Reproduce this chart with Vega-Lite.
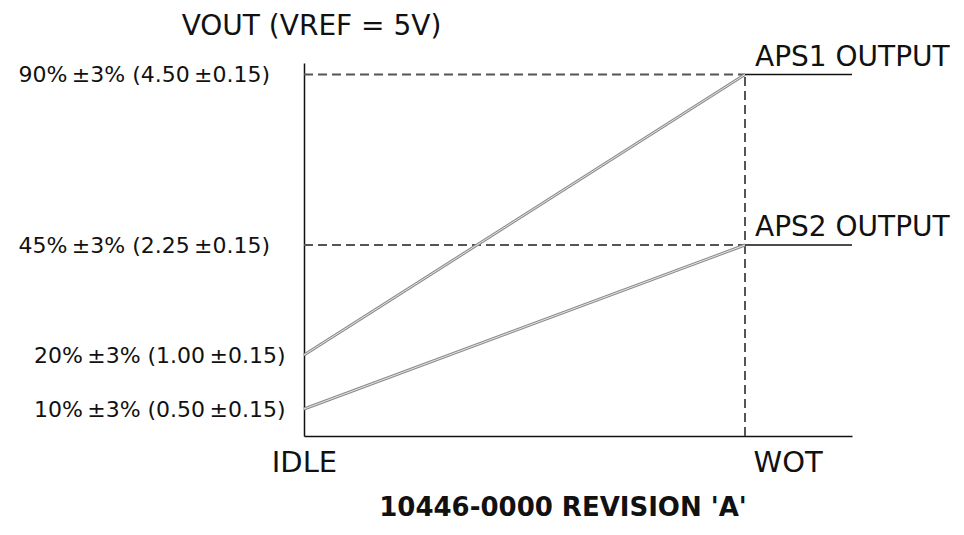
{
  "$schema": "https://vega.github.io/schema/vega-lite/v6.json",
  "width": 548,
  "height": 373,
  "autosize": "none",
  "padding": {"left": 304, "top": 63, "right": 112, "bottom": 99},
  "background": "white",
  "config": {
    "view": {"stroke": null},
    "font": "DejaVu Sans",
    "axis": {"grid": false, "ticks": false, "domainColor": "#111", "domainWidth": 1.5, "labelColor": "#111", "titleColor": "#111", "labelFont": "DejaVu Sans", "titleFont": "DejaVu Sans", "labelLimit": 0}
  },
  "title": {"text": "10446-0000 REVISION 'A'", "orient": "bottom", "anchor": "middle", "fontSize": 26, "fontWeight": "bold", "font": "DejaVu Sans", "color": "#111", "offset": 18, "dx": -15},
  "datasets": {
    "refs": [
      {"pos": 0, "pos2": 1, "v": 4.5, "v2": 4.5},
      {"pos": 0, "pos2": 1, "v": 2.25, "v2": 2.25},
      {"pos": 1, "pos2": 1, "v": 0, "v2": 4.5}
    ],
    "outputs": [
      {"series": "APS1 OUTPUT", "pos": 1, "pos2": 1.2426, "v": 4.5},
      {"series": "APS2 OUTPUT", "pos": 1, "pos2": 1.2426, "v": 2.25}
    ],
    "signals": [
      {"series": "APS1", "pos": 0, "v": 1.0},
      {"series": "APS1", "pos": 1, "v": 4.5},
      {"series": "APS2", "pos": 0, "v": 0.5},
      {"series": "APS2", "pos": 1, "v": 2.25}
    ]
  },
  "encoding": {
    "x": {"field": "pos", "type": "quantitative",
      "scale": {"domain": [0, 1.2426], "nice": false, "zero": false},
      "axis": {"values": [0, 1], "title": null, "labelFontSize": 29, "labelPadding": 12,
        "labelExpr": "datum.value == 0 ? 'IDLE' : 'WOT'",
        "labelAlign": {"condition": {"test": "datum.value == 1", "value": "left"}, "value": "center"},
        "labelOffset": {"condition": {"test": "datum.value == 1", "value": 8}, "value": 0}}},
    "y": {"field": "v", "type": "quantitative",
      "scale": {"domain": [0, 0.5, 1, 2.25, 4.5, 4.65], "range": [373, 346, 292, 182, 11.5, 0], "nice": false, "zero": false},
      "axis": {"values": [0.5, 1, 2.25, 4.5], "labelFontSize": 22, "labelPadding": 19,
        "labelExpr": "datum.value == 4.5 ? '90%\u2009±3% (4.50\u2009±0.15)\u2002\u2009\u200b' : datum.value == 2.25 ? '45%\u2009±3% (2.25\u2009±0.15)\u2002\u2009\u200b' : datum.value == 1 ? '20%\u2009±3% (1.00\u2009±0.15)' : '10%\u2009±3% (0.50\u2009±0.15)'",
        "title": "VOUT (VREF = 5V)", "titleAngle": 0, "titleFontSize": 28, "titleFontWeight": "normal",
        "titleAlign": "center", "titleBaseline": "middle", "titleX": 7, "titleY": -37}}
  },
  "layer": [
    {"data": {"name": "refs"}, "mark": {"type": "rule", "color": "#555", "strokeWidth": 2, "strokeDash": [9, 5]},
      "encoding": {"x2": {"field": "pos2"}, "y2": {"field": "v2"}}},
    {"data": {"name": "outputs"}, "mark": {"type": "rule", "color": "#111", "strokeWidth": 1.6},
      "encoding": {"x2": {"field": "pos2"}}},
    {"data": {"name": "signals"}, "mark": {"type": "line", "color": "#8c8c8c", "strokeWidth": 3},
      "encoding": {"detail": {"field": "series"}}},
    {"data": {"name": "signals"}, "mark": {"type": "line", "color": "#e6e6e6", "strokeWidth": 1},
      "encoding": {"detail": {"field": "series"}}},
    {"data": {"name": "outputs"}, "mark": {"type": "text", "align": "left", "baseline": "alphabetic", "dx": 10, "dy": -9, "fontSize": 28, "color": "#111", "font": "DejaVu Sans"},
      "encoding": {"text": {"field": "series"}}}
  ]
}
